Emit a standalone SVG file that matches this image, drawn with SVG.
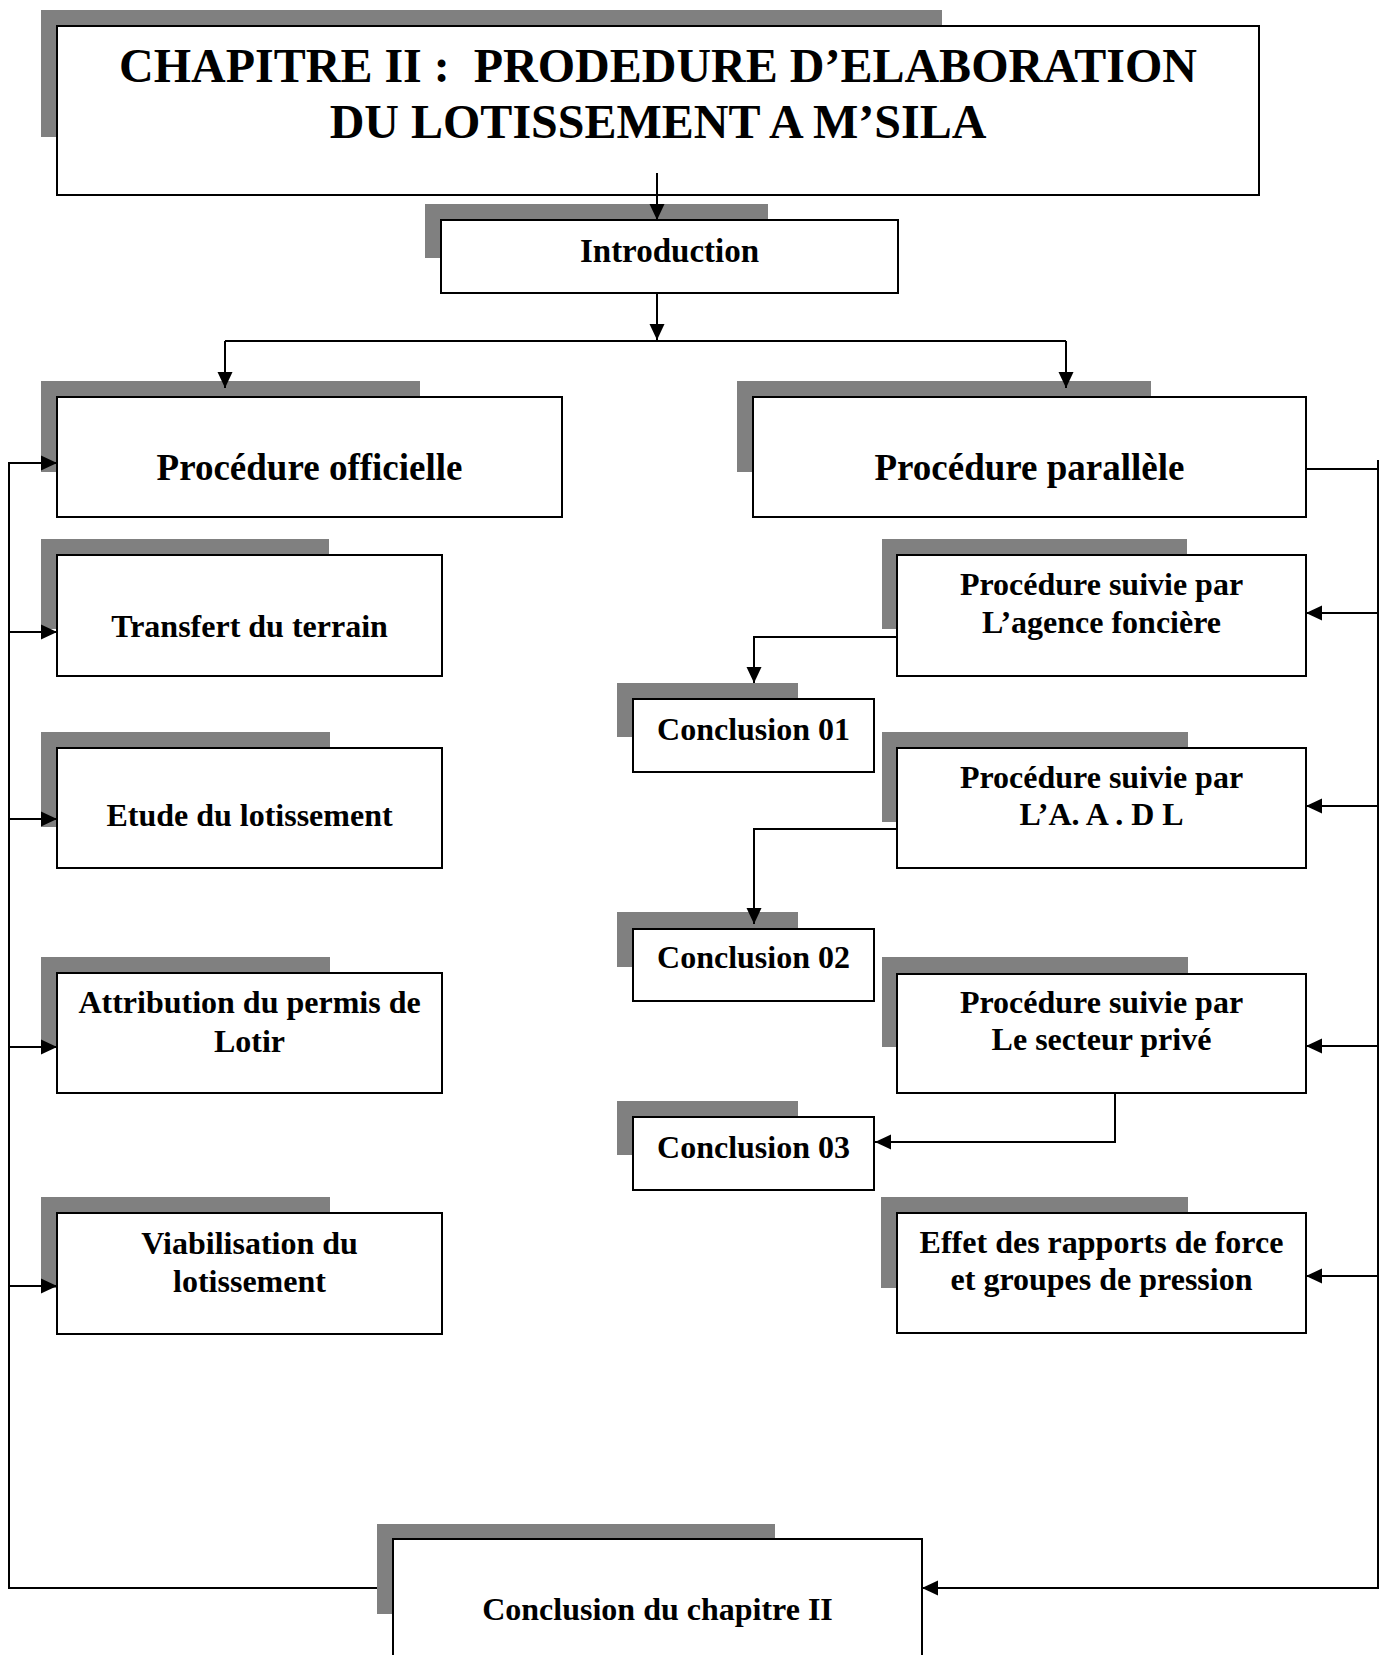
<svg xmlns="http://www.w3.org/2000/svg" width="1386" height="1655" viewBox="0 0 1386 1655">
  <style>
    .shadow { fill: #808080; }
    .box { fill: #ffffff; stroke: #000000; stroke-width: 2; }
    .t { font-family: "Liberation Serif", "Times New Roman", serif; font-weight: bold; fill: #000000; text-anchor: middle; }
    .title { font-size: 48px; }
    .big { font-size: 37px; }
    .mid { font-size: 33px; }
    .sm { font-size: 32px; }
    .link { fill: none; stroke: #000000; stroke-width: 2; }
  </style>
  <defs>
    <marker id="arrow" markerUnits="userSpaceOnUse" markerWidth="16" markerHeight="16" viewBox="0 0 16 16" refX="16" refY="8" orient="auto">
      <path d="M0,0.5 L16,8 L0,15.5 Z" fill="#000000"/>
    </marker>
  </defs>

  <rect width="1386" height="1655" fill="#ffffff"/>

  <!-- nodes: grey offset block behind a white framed box -->
  <g id="node-title">
    <rect class="shadow" x="41" y="10" width="901" height="127"/>
    <rect class="box" x="57" y="26" width="1202" height="169"/>
    <text class="t title" x="658" y="82">CHAPITRE II :&#160; PRODEDURE D’ELABORATION</text>
    <text class="t title" x="658" y="138">DU LOTISSEMENT A M’SILA</text>
  </g>

  <g id="node-introduction">
    <rect class="shadow" x="425" y="204" width="343" height="54"/>
    <rect class="box" x="441" y="220" width="457" height="73"/>
    <text class="t mid" x="669.5" y="262">Introduction</text>
  </g>

  <g id="node-officielle">
    <rect class="shadow" x="41" y="381" width="379" height="91"/>
    <rect class="box" x="57" y="397" width="505" height="120"/>
    <text class="t big" x="309.5" y="480">Procédure officielle</text>
  </g>

  <g id="node-parallele">
    <rect class="shadow" x="737" y="381" width="414" height="91"/>
    <rect class="box" x="753" y="397" width="553" height="120"/>
    <text class="t big" x="1029.5" y="480">Procédure parallèle</text>
  </g>

  <g id="node-transfert">
    <rect class="shadow" x="41" y="539" width="288" height="90"/>
    <rect class="box" x="57" y="555" width="385" height="121"/>
    <text class="t sm" x="249.5" y="637">Transfert du terrain</text>
  </g>

  <g id="node-agence">
    <rect class="shadow" x="882" y="539" width="305" height="90"/>
    <rect class="box" x="897" y="555" width="409" height="121"/>
    <text class="t sm" x="1101.5" y="595">Procédure suivie par</text>
    <text class="t sm" x="1101.5" y="633">L’agence foncière</text>
  </g>

  <g id="node-conclusion-01">
    <rect class="shadow" x="617" y="683" width="181" height="54"/>
    <rect class="box" x="633" y="699" width="241" height="73"/>
    <text class="t sm" x="753.5" y="740">Conclusion 01</text>
  </g>

  <g id="node-etude">
    <rect class="shadow" x="41" y="732" width="289" height="95"/>
    <rect class="box" x="57" y="748" width="385" height="120"/>
    <text class="t sm" x="249.5" y="826">Etude du lotissement</text>
  </g>

  <g id="node-aadl">
    <rect class="shadow" x="882" y="732" width="306" height="90"/>
    <rect class="box" x="897" y="748" width="409" height="120"/>
    <text class="t sm" x="1101.5" y="788">Procédure suivie par</text>
    <text class="t sm" x="1101.5" y="825">L’A. A . D L</text>
  </g>

  <g id="node-conclusion-02">
    <rect class="shadow" x="617" y="912" width="181" height="55"/>
    <rect class="box" x="633" y="929" width="241" height="72"/>
    <text class="t sm" x="753.5" y="968">Conclusion 02</text>
  </g>

  <g id="node-attribution">
    <rect class="shadow" x="41" y="957" width="289" height="90"/>
    <rect class="box" x="57" y="973" width="385" height="120"/>
    <text class="t sm" x="249.5" y="1013">Attribution du permis de</text>
    <text class="t sm" x="249.5" y="1052">Lotir</text>
  </g>

  <g id="node-secteur-prive">
    <rect class="shadow" x="882" y="957" width="306" height="90"/>
    <rect class="box" x="897" y="974" width="409" height="119"/>
    <text class="t sm" x="1101.5" y="1013">Procédure suivie par</text>
    <text class="t sm" x="1101.5" y="1050">Le secteur privé</text>
  </g>

  <g id="node-conclusion-03">
    <rect class="shadow" x="617" y="1101" width="181" height="54"/>
    <rect class="box" x="633" y="1117" width="241" height="73"/>
    <text class="t sm" x="753.5" y="1158">Conclusion 03</text>
  </g>

  <g id="node-viabilisation">
    <rect class="shadow" x="41" y="1197" width="289" height="91"/>
    <rect class="box" x="57" y="1213" width="385" height="121"/>
    <text class="t sm" x="249.5" y="1254">Viabilisation du</text>
    <text class="t sm" x="249.5" y="1292">lotissement</text>
  </g>

  <g id="node-effet">
    <rect class="shadow" x="881" y="1197" width="307" height="91"/>
    <rect class="box" x="897" y="1213" width="409" height="120"/>
    <text class="t sm" x="1101.5" y="1253">Effet des rapports de force</text>
    <text class="t sm" x="1101.5" y="1290">et groupes de pression</text>
  </g>

  <g id="node-conclusion-chapitre">
    <rect class="shadow" x="377" y="1524" width="398" height="90"/>
    <rect class="box" x="393" y="1539" width="529" height="140"/>
    <text class="t sm" x="657.5" y="1620">Conclusion du chapitre II</text>
  </g>

  <!-- connectors -->
  <g id="connectors">
    <!-- top spine -->
    <path class="link" d="M657,173 V220" marker-end="url(#arrow)"/>
    <path class="link" d="M657,293 V340" marker-end="url(#arrow)"/>
    <path class="link" d="M225,341 H1066"/>
    <path class="link" d="M225,341 V388" marker-end="url(#arrow)"/>
    <path class="link" d="M1066,341 V388" marker-end="url(#arrow)"/>

    <!-- left bus: official procedure steps -->
    <path class="link" d="M9,462 V1588 H377"/>
    <path class="link" d="M9,463 H57" marker-end="url(#arrow)"/>
    <path class="link" d="M9,632 H57" marker-end="url(#arrow)"/>
    <path class="link" d="M9,819 H57" marker-end="url(#arrow)"/>
    <path class="link" d="M9,1047 H57" marker-end="url(#arrow)"/>
    <path class="link" d="M9,1286 H57" marker-end="url(#arrow)"/>

    <!-- right bus: parallel procedure branches -->
    <path class="link" d="M1306,469 H1378"/>
    <path class="link" d="M1378,460 V1588 H922" marker-end="url(#arrow)"/>
    <path class="link" d="M1378,613 H1306" marker-end="url(#arrow)"/>
    <path class="link" d="M1378,806 H1306" marker-end="url(#arrow)"/>
    <path class="link" d="M1378,1046 H1306" marker-end="url(#arrow)"/>
    <path class="link" d="M1378,1276 H1306" marker-end="url(#arrow)"/>

    <!-- branch conclusions -->
    <path class="link" d="M897,637 H754 V683" marker-end="url(#arrow)"/>
    <path class="link" d="M897,829 H754 V924" marker-end="url(#arrow)"/>
    <path class="link" d="M1115,1093 V1142 H875" marker-end="url(#arrow)"/>
  </g>
</svg>
